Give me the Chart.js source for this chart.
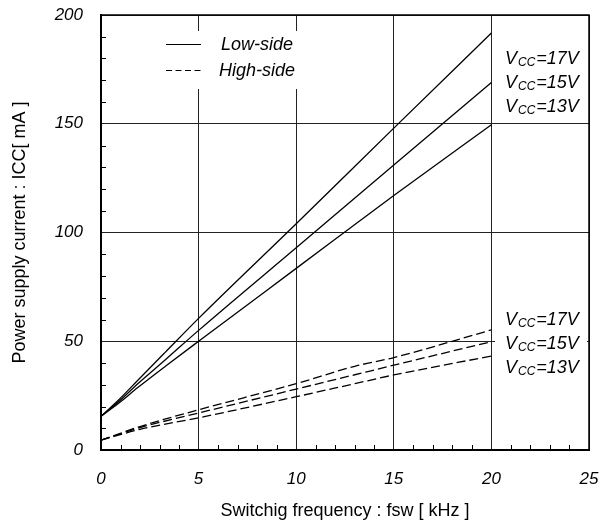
<!DOCTYPE html>
<html>
<head>
<meta charset="utf-8">
<script src="https://cdn.jsdelivr.net/npm/chart.js@4.4.0/dist/chart.umd.min.js"></script>
<style>
  html, body { margin: 0; padding: 0; background: #fff; }
  #wrap { width: 602px; height: 523px; }
</style>
</head>
<body>
<div id="wrap"><canvas id="chart"></canvas></div>
<script>
// Low-side supply current (mA) vs switching frequency (kHz)
const lowFreq = [0, 0.9, 1.9, 3.3, 5, 10, 15, 20];
const low17 = [15.5, 23, 32.2, 45, 60.5, 104, 148, 191.7];
const low15 = [15.5, 22.2, 30.6, 41.5, 55, 93, 131, 169];
const low13 = [15.5, 21.5, 28.8, 38.5, 50, 83.5, 117, 149.5];

// High-side supply current (mA)
const highFreq = [0, 2, 5, 10, 13, 15, 20];
const high17 = [4.5, 10.8, 18.5, 30.5, 38.5, 42.5, 55.2];
const high15 = [4.5, 10.3, 17, 28, 34.6, 39, 49.8];
const high13 = [4.5, 9.5, 14.8, 24.5, 30.5, 34.5, 43.2];

const vccLabels = ['17V', '15V', '13V'];
const legendNames = ['Low-side', 'High-side'];

const FONT = '"Liberation Sans", Arial, sans-serif';
const dashPattern = [9, 4];

function pts(xs, ys) {
    return xs.map((x, i) => ({ x: x, y: ys[i] }));
}

function lineSet(label, xs, ys, dashed) {
    return {
        label: label,
        data: pts(xs, ys),
        borderColor: '#000',
        borderWidth: 1.3,
        borderDash: dashed ? dashPattern : [],
        pointRadius: 0,
        cubicInterpolationMode: 'monotone',
        fill: false
    };
}

// minor ticks, frame, legend box and the Vcc labels
const decorPlugin = {
    id: 'decor',
    beforeDatasetsDraw(chart) {
        const ctx = chart.ctx;
        const ca = chart.chartArea;
        const xs = chart.scales.x, ys = chart.scales.y;
        ctx.save();

        // minor ticks pointing inwards
        ctx.strokeStyle = '#000';
        ctx.lineWidth = 1;
        ctx.beginPath();
        for (let v = 1; v < 25; v++) {
            if (v % 5 === 0) continue;
            const px = Math.round(xs.getPixelForValue(v)) + 0.5;
            ctx.moveTo(px, ca.bottom);
            ctx.lineTo(px, ca.bottom - 5);
        }
        for (let v = 10; v < 200; v += 10) {
            if (v % 50 === 0) continue;
            const py = Math.round(ys.getPixelForValue(v)) + 0.5;
            ctx.moveTo(ca.left, py);
            ctx.lineTo(ca.left + 5, py);
        }
        ctx.stroke();

        // top and right frame
        ctx.lineWidth = 1.5;
        ctx.beginPath();
        ctx.moveTo(ca.left, ca.top);
        ctx.lineTo(ca.right, ca.top);
        ctx.lineTo(ca.right, ca.bottom);
        ctx.stroke();

        // legend box (hides the grid)
        ctx.fillStyle = '#fff';
        ctx.fillRect(155, 31, 155, 58);
        ctx.strokeStyle = '#000';
        ctx.lineWidth = 1.2;
        ctx.beginPath();
        ctx.moveTo(166, 44.5); ctx.lineTo(201, 44.5);
        ctx.stroke();
        ctx.setLineDash([6, 3.5]);
        ctx.beginPath();
        ctx.moveTo(166, 70.5); ctx.lineTo(202, 70.5);
        ctx.stroke();
        ctx.setLineDash([]);
        ctx.fillStyle = '#000';
        ctx.font = 'italic 18px ' + FONT;
        ctx.textAlign = 'center';
        ctx.textBaseline = 'middle';
        ctx.fillText(legendNames[0], 257, 45);
        ctx.fillText(legendNames[1], 257, 71);

        // Vcc labels at the line ends
        const rows = [57, 81, 105, 318, 342, 366];
        ctx.fillStyle = '#fff';
        ctx.fillRect(495, 306, 92, 74);
        rows.forEach((y, i) => {
            const lab = vccLabels[i % 3];
            let x = 505;
            ctx.fillStyle = '#000';
            ctx.textAlign = 'left';
            ctx.textBaseline = 'alphabetic';
            const base = y + 6.5;
            ctx.font = 'italic 18px ' + FONT;
            ctx.fillText('V', x, base);
            x += ctx.measureText('V').width + 1;
            ctx.font = 'italic 12px ' + FONT;
            ctx.fillText('CC', x, base + 2);
            x += ctx.measureText('CC').width + 1;
            ctx.font = 'italic 18px ' + FONT;
            ctx.fillText('=' + lab, x, base);
        });

        ctx.restore();
    }
};

document.addEventListener('DOMContentLoaded', () => {
    const ctx = document.getElementById('chart').getContext('2d');
    new Chart(ctx, {
        type: 'line',
        data: {
            datasets: [
                lineSet('Low 17V', lowFreq, low17, false),
                lineSet('Low 15V', lowFreq, low15, false),
                lineSet('Low 13V', lowFreq, low13, false),
                lineSet('High 17V', highFreq, high17, true),
                lineSet('High 15V', highFreq, high15, true),
                lineSet('High 13V', highFreq, high13, true)
            ]
        },
        options: {
            responsive: true,
            maintainAspectRatio: false,
            animation: false,
            layout: { padding: { left: 0, top: 15, right: 13, bottom: 0 } },
            scales: {
                x: {
                    type: 'linear',
                    min: 0,
                    max: 25,
                    ticks: {
                        stepSize: 5,
                        color: '#000',
                        padding: 19,
                        font: { family: FONT, size: 17, style: 'italic' }
                    },
                    grid: { color: '#222', lineWidth: 1, drawTicks: false },
                    border: { display: true, color: '#000', width: 2 },
                    title: {
                        display: true,
                        text: 'Switchig frequency : fsw [ kHz ]',
                        color: '#000',
                        font: { family: FONT, size: 18 },
                        padding: { top: 0, bottom: 1 }
                    },
                    afterFit: (s) => {
                        s.height = 73;
                        s.paddingLeft = 0;
                        s.paddingRight = 0;
                    }
                },
                y: {
                    min: 0,
                    max: 200,
                    ticks: {
                        stepSize: 50,
                        color: '#000',
                        padding: 18,
                        font: { family: FONT, size: 17, style: 'italic' }
                    },
                    grid: { color: '#222', lineWidth: 1, drawTicks: false },
                    border: { display: true, color: '#000', width: 2 },
                    title: {
                        display: true,
                        text: 'Power supply current : ICC[ mA ]',
                        color: '#000',
                        font: { family: FONT, size: 18 },
                        padding: { top: 9, bottom: 0 }
                    },
                    afterFit: (s) => {
                        s.width = 101;
                        s.paddingTop = 0;
                        s.paddingBottom = 0;
                    }
                }
            },
            plugins: {
                legend: { display: false },
                tooltip: { enabled: false }
            }
        },
        plugins: [decorPlugin]
    });
});
</script>
</body>
</html>
